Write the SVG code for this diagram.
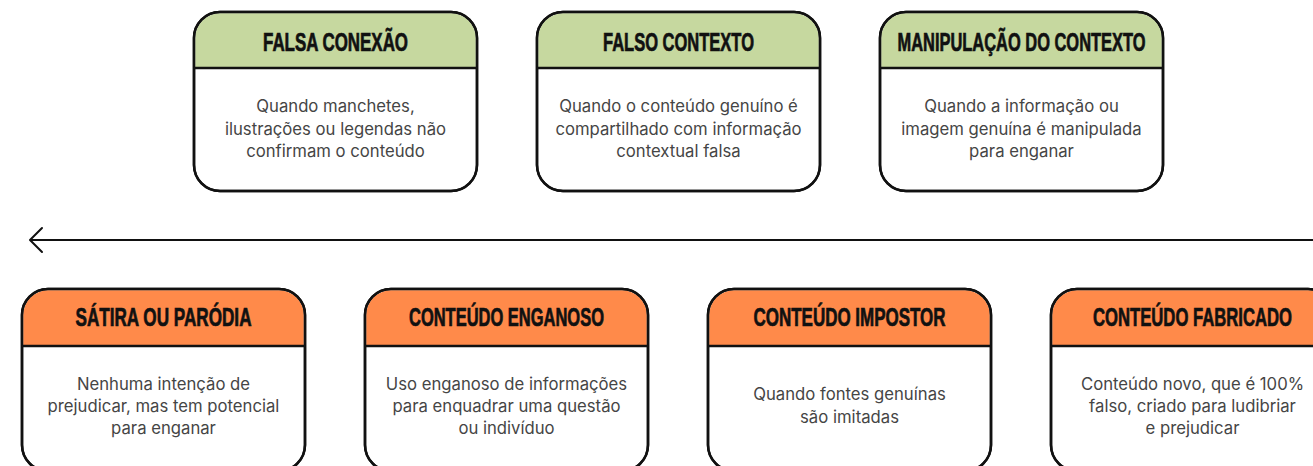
<svg xmlns="http://www.w3.org/2000/svg" width="1313" height="466" viewBox="0 0 1313 466">
<defs>
<style>
.card{fill:#fff;stroke:#111;stroke-width:2.5}
.hg{fill:#c6d89f}
.ho{fill:#ff8a4a}
.div{stroke:#111;stroke-width:2.5}
.h{font-family:"Liberation Sans",Arial,sans-serif;font-weight:bold;font-size:25px;fill:#111;stroke:#111;stroke-width:0.7;text-anchor:middle}
.b{font-family:Inter,"Liberation Sans",sans-serif;font-size:16.7px;fill:#454545;text-anchor:middle}
.conn{stroke:#111;stroke-width:2;fill:none}
</style>
</defs>
<rect width="1313" height="466" fill="#fff"/>
<g id="connectors">
<line class="conn" x1="31" y1="240" x2="1320" y2="240"/>
<polyline class="conn" points="42,228 30,240 42,252" stroke-linecap="round" stroke-linejoin="round"/>
</g>
<g id="falsa-conexao" transform="translate(194,12)">
<rect class="card" width="283" height="179" rx="26"/>
<path class="hg" d="M26 1.25H257A24.75 24.75 0 0 1 281.75 26V56H1.25V26A24.75 24.75 0 0 1 26 1.25Z"/>
<rect class="card" width="283" height="179" rx="26" style="fill:none"/>
<line class="div" x1="0" y1="56" x2="283" y2="56"/>
<text class="h" x="141.5" y="39" textLength="145" lengthAdjust="spacingAndGlyphs">FALSA CONEXÃO</text>
<text class="b" x="141.5" y="100">Quando manchetes,</text>
<text class="b" x="141.5" y="123">ilustrações ou legendas não</text>
<text class="b" x="141.5" y="145">confirmam o conteúdo</text>
</g>
<g id="falso-contexto" transform="translate(537,12)">
<rect class="card" width="283" height="179" rx="26"/>
<path class="hg" d="M26 1.25H257A24.75 24.75 0 0 1 281.75 26V56H1.25V26A24.75 24.75 0 0 1 26 1.25Z"/>
<rect class="card" width="283" height="179" rx="26" style="fill:none"/>
<line class="div" x1="0" y1="56" x2="283" y2="56"/>
<text class="h" x="141.5" y="39" textLength="151" lengthAdjust="spacingAndGlyphs">FALSO CONTEXTO</text>
<text class="b" x="141.5" y="100">Quando o conteúdo genuíno é</text>
<text class="b" x="141.5" y="123">compartilhado com informação</text>
<text class="b" x="141.5" y="145">contextual falsa</text>
</g>
<g id="manipulacao-do-contexto" transform="translate(880,12)">
<rect class="card" width="283" height="179" rx="26"/>
<path class="hg" d="M26 1.25H257A24.75 24.75 0 0 1 281.75 26V56H1.25V26A24.75 24.75 0 0 1 26 1.25Z"/>
<rect class="card" width="283" height="179" rx="26" style="fill:none"/>
<line class="div" x1="0" y1="56" x2="283" y2="56"/>
<text class="h" x="141.5" y="39" textLength="248" lengthAdjust="spacingAndGlyphs">MANIPULAÇÃO DO CONTEXTO</text>
<text class="b" x="141.5" y="100">Quando a informação ou</text>
<text class="b" x="141.5" y="123">imagem genuína é manipulada</text>
<text class="b" x="141.5" y="145">para enganar</text>
</g>
<g id="satira-ou-parodia" transform="translate(22,289)">
<rect class="card" width="283" height="182" rx="26"/>
<path class="ho" d="M26 1.25H257A24.75 24.75 0 0 1 281.75 26V57H1.25V26A24.75 24.75 0 0 1 26 1.25Z"/>
<rect class="card" width="283" height="182" rx="26" style="fill:none"/>
<line class="div" x1="0" y1="57" x2="283" y2="57"/>
<text class="h" x="141.5" y="37" textLength="176" lengthAdjust="spacingAndGlyphs">SÁTIRA OU PARÓDIA</text>
<text class="b" x="141.5" y="101">Nenhuma intenção de</text>
<text class="b" x="141.5" y="123">prejudicar, mas tem potencial</text>
<text class="b" x="141.5" y="145">para enganar</text>
</g>
<g id="conteudo-enganoso" transform="translate(365,289)">
<rect class="card" width="283" height="182" rx="26"/>
<path class="ho" d="M26 1.25H257A24.75 24.75 0 0 1 281.75 26V57H1.25V26A24.75 24.75 0 0 1 26 1.25Z"/>
<rect class="card" width="283" height="182" rx="26" style="fill:none"/>
<line class="div" x1="0" y1="57" x2="283" y2="57"/>
<text class="h" x="141.5" y="37" textLength="195" lengthAdjust="spacingAndGlyphs">CONTEÚDO ENGANOSO</text>
<text class="b" x="141.5" y="101">Uso enganoso de informações</text>
<text class="b" x="141.5" y="123">para enquadrar uma questão</text>
<text class="b" x="141.5" y="145">ou indivíduo</text>
</g>
<g id="conteudo-impostor" transform="translate(708,289)">
<rect class="card" width="283" height="182" rx="26"/>
<path class="ho" d="M26 1.25H257A24.75 24.75 0 0 1 281.75 26V57H1.25V26A24.75 24.75 0 0 1 26 1.25Z"/>
<rect class="card" width="283" height="182" rx="26" style="fill:none"/>
<line class="div" x1="0" y1="57" x2="283" y2="57"/>
<text class="h" x="141.5" y="37" textLength="192" lengthAdjust="spacingAndGlyphs">CONTEÚDO IMPOSTOR</text>
<text class="b" x="141.5" y="111">Quando fontes genuínas</text>
<text class="b" x="141.5" y="134">são imitadas</text>
</g>
<g id="conteudo-fabricado" transform="translate(1051,289)">
<rect class="card" width="283" height="182" rx="26"/>
<path class="ho" d="M26 1.25H257A24.75 24.75 0 0 1 281.75 26V57H1.25V26A24.75 24.75 0 0 1 26 1.25Z"/>
<rect class="card" width="283" height="182" rx="26" style="fill:none"/>
<line class="div" x1="0" y1="57" x2="283" y2="57"/>
<text class="h" x="141.5" y="37" textLength="199" lengthAdjust="spacingAndGlyphs">CONTEÚDO FABRICADO</text>
<text class="b" x="141.5" y="101">Conteúdo novo, que é 100%</text>
<text class="b" x="141.5" y="123">falso, criado para ludibriar</text>
<text class="b" x="141.5" y="145">e prejudicar</text>
</g>
</svg>
